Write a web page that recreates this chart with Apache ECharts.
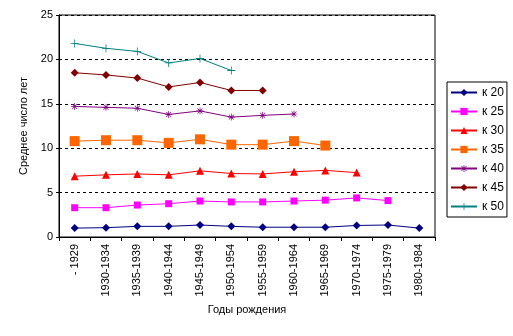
<!DOCTYPE html>
<html><head><meta charset="utf-8">
<script src="https://cdn.jsdelivr.net/npm/echarts@6/dist/echarts.min.js"></script>
<style>html,body{margin:0;padding:0;background:#fff}#c{width:513px;height:336px}</style>
</head><body><div id="c"></div>
<script>
const categories = ['- 1929','1930-1934','1935-1939','1940-1944','1945-1949','1950-1954','1955-1959','1960-1964','1965-1969','1970-1974','1975-1979','1980-1984'];
const k20 = [1.0, 1.05, 1.2, 1.2, 1.35, 1.2, 1.1, 1.1, 1.1, 1.3, 1.35, 1.0];
const k25 = [3.3, 3.3, 3.6, 3.75, 4.05, 3.95, 3.95, 4.05, 4.15, 4.4, 4.1, null];
const k30 = [6.85, 7.0, 7.1, 7.0, 7.45, 7.15, 7.1, 7.35, 7.5, 7.25, null, null];
const k35 = [10.8, 10.9, 10.9, 10.6, 11.0, 10.4, 10.4, 10.8, 10.3, null, null, null];
const k40 = [14.7, 14.6, 14.5, 13.8, 14.2, 13.5, 13.7, 13.85, null, null, null, null];
const k45 = [18.5, 18.25, 17.9, 16.9, 17.4, 16.5, 16.5, null, null, null, null, null];
const k50 = [21.8, 21.25, 20.9, 19.6, 20.1, 18.75, null, null, null, null, null, null];
const seriesNames = ['к 20','к 25','к 30','к 35','к 40','к 45','к 50'];
const yTitle = 'Среднее число лет';
const xTitle = 'Годы рождения';

const asterisk = 'path://M9,0h2v7.6l5.4-5.4l1.4,1.4L12.4,9H20v2h-7.6l5.4,5.4l-1.4,1.4L11,12.4V20H9v-7.6l-5.4,5.4l-1.4-1.4L7.6,11H0V9h7.6L2.2,3.6l1.4-1.4L9,7.6z';
const plus = 'path://M9,0h2v9h9v2h-9v9H9v-9H0V9h9z';

const styles = [
  {color:'#000080', symbol:'diamond', size:8},
  {color:'#FF00FF', symbol:'rect', size:7},
  {color:'#FF0000', symbol:'triangle', size:8},
  {color:'#FF6600', symbol:'rect', size:10},
  {color:'#800080', symbol:asterisk, size:7},
  {color:'#800000', symbol:'diamond', size:8},
  {color:'#008080', symbol:plus, size:8}
];
const data = [k20,k25,k30,k35,k40,k45,k50];

const font = '"Liberation Sans", Arial, sans-serif';
const chart = echarts.init(document.getElementById('c'), null, {renderer:'canvas'});
chart.setOption({
  animation:false,
  backgroundColor:'#fff',
  grid:{left:59, right:78, top:15, bottom:99, show:true, borderColor:'#000', borderWidth:1, backgroundColor:'transparent'},
  legend:{
    orient:'vertical', left:447, top:82,
    padding:[4,3,4,3], itemWidth:26, itemHeight:9, itemGap:6,
    borderColor:'#000', borderWidth:1,
    textStyle:{fontFamily:font, fontSize:12, color:'#000', lineHeight:13},
    data: seriesNames
  },
  xAxis:{
    type:'category', data:categories, boundaryGap:true,
    name:xTitle, nameLocation:'middle', nameGap:66,
    nameTextStyle:{fontFamily:font, fontSize:11, color:'#000'},
    axisLine:{lineStyle:{color:'#000', width:1}},
    axisTick:{show:true, length:4, lineStyle:{color:'#000'}},
    axisLabel:{rotate:90, fontFamily:font, fontSize:11, color:'#000', margin:7}
  },
  yAxis:{
    type:'value', min:0, max:25, interval:5,
    name:yTitle, nameLocation:'middle', nameGap:27, nameRotate:90,
    nameTextStyle:{fontFamily:font, fontSize:11, color:'#000'},
    axisLine:{show:true, lineStyle:{color:'#000'}},
    axisTick:{show:true, length:3, lineStyle:{color:'#000'}},
    axisLabel:{fontFamily:font, fontSize:11, color:'#000', margin:6},
    splitLine:{show:true, lineStyle:{color:'#000', type:[3,3], width:1}}
  },
  series: data.map((d,i)=>({
    name:seriesNames[i], type:'line', data:d,
    symbol:styles[i].symbol, symbolSize:styles[i].size,
    showAllSymbol:true, connectNulls:false,
    lineStyle:{color:styles[i].color, width:1},
    itemStyle:{color:styles[i].color, borderWidth:0}
  }))
});
</script></body></html>
